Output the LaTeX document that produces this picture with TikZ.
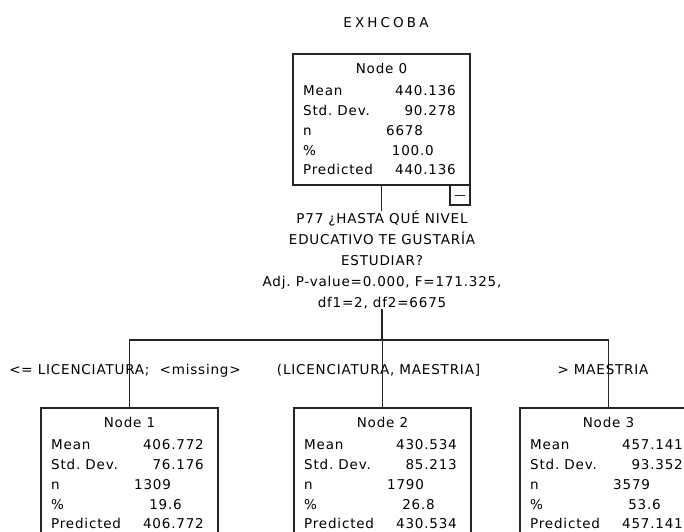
\documentclass[tikz,border=0pt]{standalone}
\usepackage{fontspec}
\setmainfont{DejaVu Sans}[LetterSpace=6]
\newfontfamily\titlefont{DejaVu Sans}[LetterSpace=23]
\frenchspacing
\newcommand\statnode[9]{%
  \node[statbox] (#1) at (#2,#3) {};
  \node[anchor=base] (#1h) at ([xshift=88.5pt,yshift=-19.5pt]#1.north west) {#4};
  \node[anchor=base west] (#1a) at ([xshift=10pt,yshift=-41pt]#1.north west) {Mean};
  \node[anchor=base east] (#1b) at ([xshift=163pt,yshift=-41pt]#1.north west) {#5};
  \node[anchor=base west] (#1c) at ([xshift=10pt,yshift=-61pt]#1.north west) {Std. Dev.};
  \node[anchor=base east] (#1d) at ([xshift=163pt,yshift=-61pt]#1.north west) {#6};
  \node[anchor=base west] (#1e) at ([xshift=10pt,yshift=-81pt]#1.north west) {n};
  \node[anchor=base west] (#1f) at ([xshift=93pt,yshift=-81pt]#1.north west) {#7};
  \node[anchor=base west] (#1g) at ([xshift=10pt,yshift=-101pt]#1.north west) {\%};
  \node[anchor=base east] (#1i) at ([xshift=141pt,yshift=-101pt]#1.north west) {#8};
  \node[anchor=base west] (#1j) at ([xshift=10pt,yshift=-120.5pt]#1.north west) {Predicted};
  \node[anchor=base east] (#1k) at ([xshift=163pt,yshift=-120.5pt]#1.north west) {#9};
}
\begin{document}
\begin{tikzpicture}[x=1pt,y=-1pt,
  every node/.style={font=\fontsize{13.5}{21}\selectfont, inner sep=0pt, text=black},
  statbox/.style={draw=black!85, line width=1.1pt, minimum width=177pt, minimum height=131pt, anchor=north west, outer sep=0pt},
  conn/.style={draw=black!85, line width=1.1pt},
  togbox/.style={draw=black!85, line width=1.1pt, minimum width=20pt, minimum height=20pt, anchor=north east, outer sep=0pt},
  minus/.style={draw=black!85, line width=0.9pt},
  edgelab/.style={anchor=base}]
\path[use as bounding box] (0,0) rectangle (684,531);
\clip (0,0) rectangle (684,531);
\fill[white] (0,0) rectangle (684,531);
\node[font=\titlefont\fontsize{13.5}{16}\selectfont, anchor=base] (title) at (386,27) {EXHCOBA};
\statnode{n0}{293}{54}{Node 0}{440.136}{90.278}{6678}{100.0}{440.136}
\node[togbox] (tog) at (n0.south east) {};
\draw[minus] ([xshift=5pt]tog.west) -- ([xshift=-5pt]tog.east);
\node[align=center] (split) at (382,260) {P77 ¿HASTA QUÉ NIVEL\\EDUCATIVO TE GUSTARÍA\\ESTUDIAR?\\Adj. P-value=0.000, F=171.325,\\df1=2, df2=6675};
\draw[conn] (n0.south) -- (n0.south |- split.north);
\coordinate (j) at (382,340);
\draw[conn] (split.south) -- (j);
\statnode{n1}{41}{408}{Node 1}{406.772}{76.176}{1309}{19.6}{406.772}
\statnode{n2}{294}{408}{Node 2}{430.534}{85.213}{1790}{26.8}{430.534}
\statnode{n3}{520}{408}{Node 3}{457.141}{93.352}{3579}{53.6}{457.141}
\draw[conn] (j) -| (n1.north);
\draw[conn] (j) -| (n3.north);
\draw[conn] (j) -| (n2.north);
\node[edgelab] (l1) at (125,374) {<= LICENCIATURA;\ \ <missing>};
\node[edgelab] (l2) at (378.5,374) {(LICENCIATURA, MAESTRIA]};
\node[edgelab] (l3) at (603,374) {> MAESTRIA};
\end{tikzpicture}
\end{document}
